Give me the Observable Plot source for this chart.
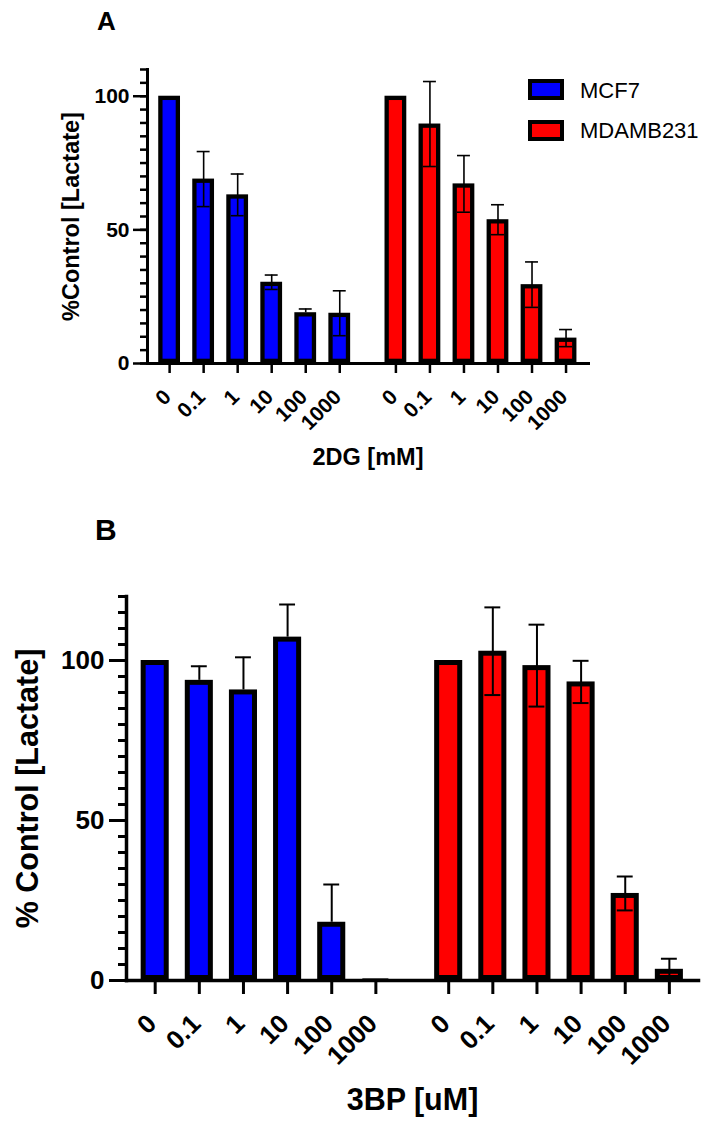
<!DOCTYPE html>
<html>
<head>
<meta charset="utf-8">
<script src="https://cdn.jsdelivr.net/npm/d3@7"></script>
<script src="https://cdn.jsdelivr.net/npm/@observablehq/plot@0.6"></script>
<style>
  html, body { margin: 0; padding: 0; background: #fff; }
  #root { position: relative; width: 716px; height: 1129px; font-family: "Liberation Sans", Arial, Helvetica, sans-serif; }
  .panel { position: absolute; left: 0; }
  .letter { position: absolute; font-weight: bold; line-height: 1; }
  .leg { position: absolute; font-size: 22px; line-height: 1; }
  .sw { position: absolute; box-sizing: border-box; border: 4px solid #000; }
</style>
</head>
<body>
<div id="root"></div>
<script>
// ---------- data ----------
const doses = ["0", "0.1", "1", "10", "100", "1000"];
const cellLines = ["MCF7", "MDAMB231"];

// Panel A: 2DG [mM]
const mcf7_2DG        = [100, 69.0, 63.1, 30.4, 19.0, 18.8];
const mcf7_2DG_errUp  = [0, 10.3, 7.8, 2.7, 1.4, 8.4];
const mcf7_2DG_errDn  = [0, 10.3, 7.8, 2.7, 0, 8.4];
const mda_2DG         = [100, 89.6, 67.2, 53.8, 29.5, 9.5];
const mda_2DG_errUp   = [0, 15.9, 10.6, 5.6, 8.5, 3.2];
const mda_2DG_errDn   = [0, 15.9, 10.6, 5.6, 8.5, 3.2];

// Panel B: 3BP [uM]
const mcf7_3BP        = [100, 93.8, 90.8, 107.3, 18.2, 0.5];
const mcf7_3BP_errUp  = [0, 4.4, 10.2, 10.2, 11.8, 0];
const mcf7_3BP_errDn  = [0, 0, 0, 0, 0, 0];
const mda_3BP         = [100, 102.9, 98.4, 93.3, 27.2, 3.5];
const mda_3BP_errUp   = [0, 13.7, 12.8, 6.6, 5.3, 3.3];
const mda_3BP_errDn   = [0, 13.7, 12.8, 6.6, 5.3, 3.3];

const yTitleA = "%Control [Lactate]";
const yTitleB = "% Control [Lactate]";
const xTitleA = "2DG [mM]";
const xTitleB = "3BP [uM]";
const yMajorA = [0, 50, 100];
const yMajorB = [0, 50, 100];

// ---------- helpers ----------
const GROUP_OFFSET = 6.65;
function buildRows(series) {
  const out = [];
  series.forEach(([vals, up, dn], g) => {
    doses.forEach((d, i) => out.push({
      line: cellLines[g], dose: d, pos: i + g * GROUP_OFFSET,
      value: vals[i], up: up[i], dn: dn[i]
    }));
  });
  return out;
}

function panel(rows, o) {
  const positions = rows.map(d => d.pos);
  return Plot.plot({
    width: 716, height: o.height,
    marginTop: o.mt, marginBottom: o.mb, marginLeft: o.ml, marginRight: o.mr,
    style: {fontFamily: '"Liberation Sans", Arial, Helvetica, sans-serif', background: "transparent", overflow: "visible", color: "#000"},
    x: {domain: [-0.65, 12.31], axis: null},
    y: {domain: [0, o.ymax], axis: null},
    color: {domain: cellLines, range: ["#0000ff", "#ff0000"]},
    marks: [
      Plot.rect(rows, {
        x1: d => d.pos - o.half, x2: d => d.pos + o.half, y1: 0, y2: "value",
        fill: "line", stroke: "#000", strokeWidth: o.bw, inset: o.bw / 2
      }),
      // very small bars: drawn as a thin outline at the baseline
      Plot.rect(rows.filter(d => d.value > 0 && d.value < 1), {
        x1: d => d.pos - o.half, x2: d => d.pos + o.half, y1: 0, y2: "value",
        fill: "#000", insetLeft: 1, insetRight: 1
      }),
      Plot.ruleX(rows.filter(d => d.up > 0), {
        x: "pos", y1: d => d.value - d.dn, y2: d => d.value + d.up, stroke: "#000", strokeWidth: o.ew
      }),
      Plot.ruleY(rows.filter(d => d.up > 0), {
        y: d => d.value + d.up, x1: d => d.pos - o.cap, x2: d => d.pos + o.cap, stroke: "#000", strokeWidth: o.ew
      }),
      Plot.ruleY(rows.filter(d => d.dn > 0), {
        y: d => d.value - d.dn, x1: d => d.pos - o.cap, x2: d => d.pos + o.cap, stroke: "#000", strokeWidth: o.ew
      }),
      // y minor + major ticks
      Plot.axisY(d3.range(0, o.ymax + 0.1, 5), {anchor: "left", tickSize: o.minor, fill: "none", strokeWidth: o.tw, label: null}),
      Plot.axisY(o.yMajor, {anchor: "left", tickSize: o.major, tickPadding: o.tp, strokeWidth: o.tw,
        fontSize: o.fs, fontWeight: "bold", label: null}),
      // x ticks
      Plot.axisX(positions, {anchor: "bottom", tickSize: o.xt, fill: "none", strokeWidth: o.tw, label: null}),
      // axis lines
      Plot.frame({anchor: "left", strokeWidth: o.aw}),
      Plot.frame({anchor: "bottom", strokeWidth: o.aw}),
      // rotated dose labels
      Plot.text(rows, {x: "pos", text: "dose", frameAnchor: "bottom", rotate: -45,
        textAnchor: "end", lineAnchor: "middle", dy: o.ldy, dx: o.ldx,
        fontSize: o.fs, fontWeight: "bold", fill: "#000"}),
      // axis titles
      Plot.text([o.xTitle], {text: d => d, frameAnchor: "bottom", dy: o.xdy, lineAnchor: "middle",
        fontSize: o.tfs, fontWeight: "bold", fill: "#000"}),
      Plot.text([o.yTitle], {text: d => d, frameAnchor: "left", dx: o.ydx, rotate: -90, lineAnchor: "middle",
        textAnchor: "middle", fontSize: o.tfs, fontWeight: "bold", fill: "#000"})
    ]
  });
}

const root = document.getElementById("root");

const rowsA = buildRows([[mcf7_2DG, mcf7_2DG_errUp, mcf7_2DG_errDn], [mda_2DG, mda_2DG_errUp, mda_2DG_errDn]]);
const rowsB = buildRows([[mcf7_3BP, mcf7_3BP_errUp, mcf7_3BP_errDn], [mda_3BP, mda_3BP_errUp, mda_3BP_errDn]]);

const svgA = panel(rowsA, {
  height: 480, mt: 69, mb: 117, ml: 147, mr: 128, ymax: 110, yMajor: yMajorA,
  half: 0.32, bw: 4.3, ew: 1.6, cap: 0.19, minor: 7, major: 14, tp: 4, tw: 2.5, xt: 10, aw: 3,
  fs: 21, ldy: 30, ldx: -2, xTitle: xTitleA, yTitle: yTitleA, tfs: 23.5, xdy: 94, ydx: -76
});
svgA.classList.add("panel");
svgA.style.top = "0px";
root.appendChild(svgA);

const svgB = panel(rowsB, {
  height: 649, mt: 116, mb: 149, ml: 126, mr: 18, ymax: 120, yMajor: yMajorB,
  half: 0.318, bw: 5, ew: 2, cap: 0.18, minor: 8, major: 17, tp: 5, tw: 3, xt: 14, aw: 3.5,
  fs: 26, ldy: 39, ldx: -3, xTitle: xTitleB, yTitle: yTitleB, tfs: 30.5, xdy: 120, ydx: -98
});
svgB.classList.add("panel");
svgB.style.top = "480px";
root.appendChild(svgB);

// panel letters
function letter(t, x, top, size) {
  const el = document.createElement("div");
  el.className = "letter"; el.textContent = t;
  el.style.left = x + "px"; el.style.top = top + "px"; el.style.fontSize = size + "px";
  root.appendChild(el);
}
letter("A", 97, 8, 26);
letter("B", 95, 515, 30);

// legend
const legColors = ["#0000ff", "#ff0000"];
cellLines.forEach((name, i) => {
  const sw = document.createElement("div");
  sw.className = "sw";
  sw.style.left = "528px"; sw.style.top = (79 + i * 41) + "px";
  sw.style.width = "36px"; sw.style.height = "21px";
  sw.style.background = legColors[i];
  root.appendChild(sw);
  const tx = document.createElement("div");
  tx.className = "leg"; tx.textContent = name;
  tx.style.left = "580px"; tx.style.top = (80 + i * 40) + "px";
  root.appendChild(tx);
});
</script>
</body>
</html>
